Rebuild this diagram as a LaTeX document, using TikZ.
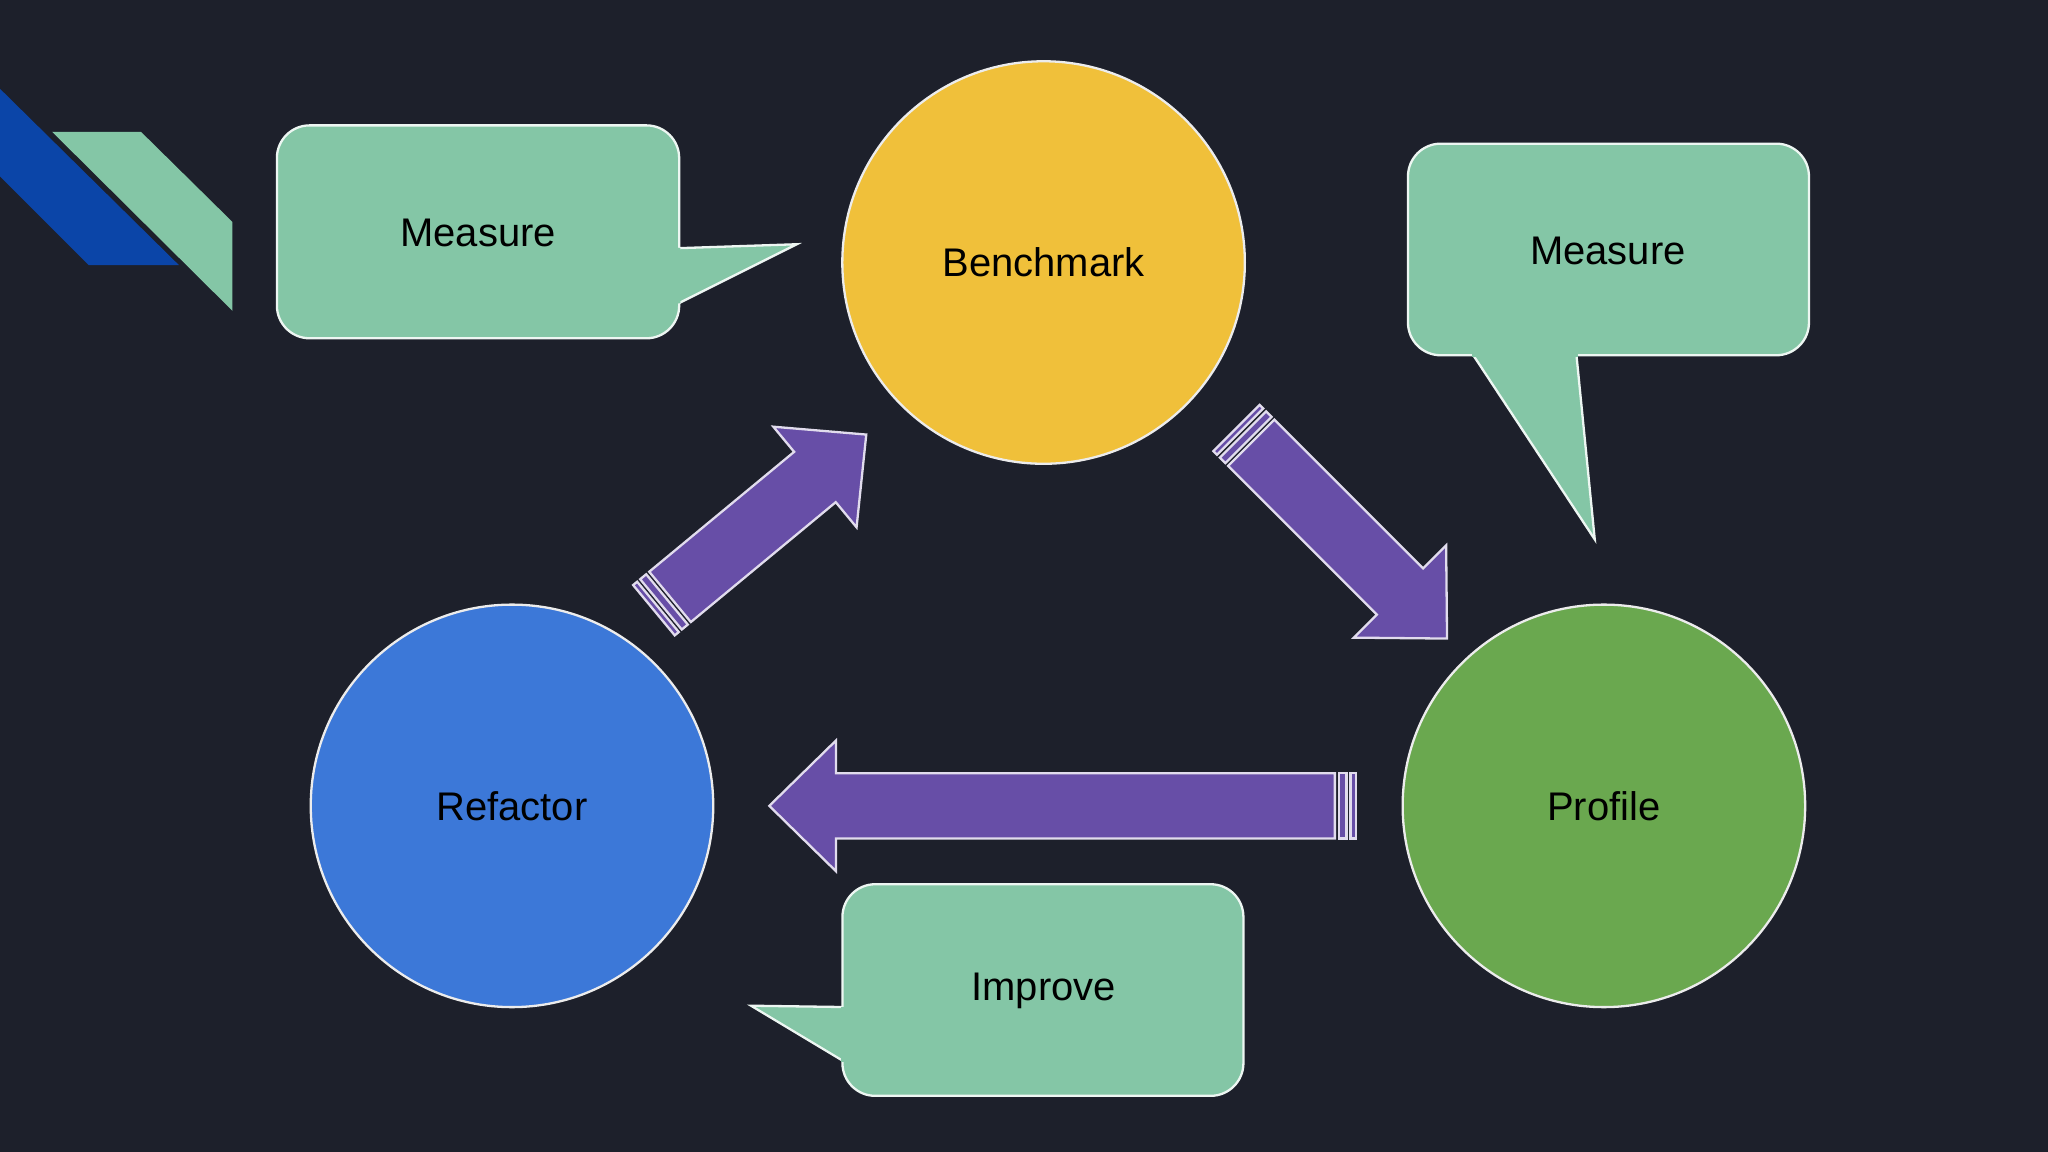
\documentclass[tikz,border=0pt]{standalone}
\usepackage{fontspec}
\setmainfont{Liberation Sans}
\definecolor{bg}{HTML}{1D202B}
\definecolor{yel}{HTML}{F0C03A}
\definecolor{blu}{HTML}{3C78D8}
\definecolor{grn}{HTML}{6AA84F}
\definecolor{mint}{HTML}{84C6A6}
\definecolor{purp}{HTML}{674EA7}
\definecolor{dblue}{HTML}{0B45A8}
\begin{document}
\begin{tikzpicture}[x=0.01cm,y=-0.01cm,
  circ/.style={draw=white!85!gray,line width=0.5pt,circle,minimum size=3.08cm,inner sep=0pt,font=\fontsize{8.7}{10}\selectfont},
  callout/.style={fill=mint,draw=white!85!mint,line width=0.5pt},
  cover/.style={fill=mint},
  lbl/.style={font=\fontsize{8.7}{10}\selectfont},
  arr/.style={fill=purp,draw=white!80!purp,line width=0.5pt}]
\fill[bg] (0,0) rectangle (1568,882);
\useasboundingbox (0,0) rectangle (1568,882);
% corner decoration
\fill[dblue] (0,68) -- (137,203) -- (68,203) -- (0,135) -- cycle;
\fill[mint] (40,101) -- (108,101) -- (178,170) -- (178,238) -- cycle;
% circles
\node[circ,fill=yel] (bench) at (799,201) {Benchmark};
\node[circ,fill=blu] (refac) at (392,617) {Refactor};
\node[circ,fill=grn] (prof) at (1228,617) {Profile};
% callouts
\draw[callout,rounded corners=0.25cm] (212,96) rectangle (520,259);
\draw[callout] (520,232) -- (610,187) -- (520,190);
\fill[cover] (516,233) -- (521,232) -- (521,190) -- (516,189) -- cycle;
\node[lbl] (m1) at (366,178) {Measure};
\draw[callout,rounded corners=0.25cm] (1078,110) rectangle (1385,272);
\draw[callout] (1128,272) -- (1221,413) -- (1207,272);
\fill[cover] (1127,268) -- (1127,273) -- (1208,273) -- (1208,268) -- cycle;
\node[lbl] (m2) at (1231,192) {Measure};
\draw[callout,rounded corners=0.25cm] (645,677) rectangle (952,839);
\draw[callout] (645,771) -- (575,770) -- (645,812);
\fill[cover] (644,771) -- (649,771) -- (649,813) -- (644,813) -- cycle;
\node[lbl] (imp) at (799,759) {Improve};
% block arrows
\newcommand\blockarrow[3]{%
 \begin{scope}[shift={#1},rotate=#2]
  \draw[arr] (0,-25) -- (#3-51,-25) -- (#3-51,-50) -- (#3,0) -- (#3-51,50) -- (#3-51,25) -- (0,25) -- cycle;
  \draw[arr] (-3,-25) rectangle (-9,25);
  \draw[arr] (-12,-25) rectangle (-16,25);
 \end{scope}}
\blockarrow{(1022,617)}{180}{433}
\blockarrow{(513,457)}{39.6}{195}
\blockarrow{(958,339)}{-45}{212}
\end{tikzpicture}
\end{document}
